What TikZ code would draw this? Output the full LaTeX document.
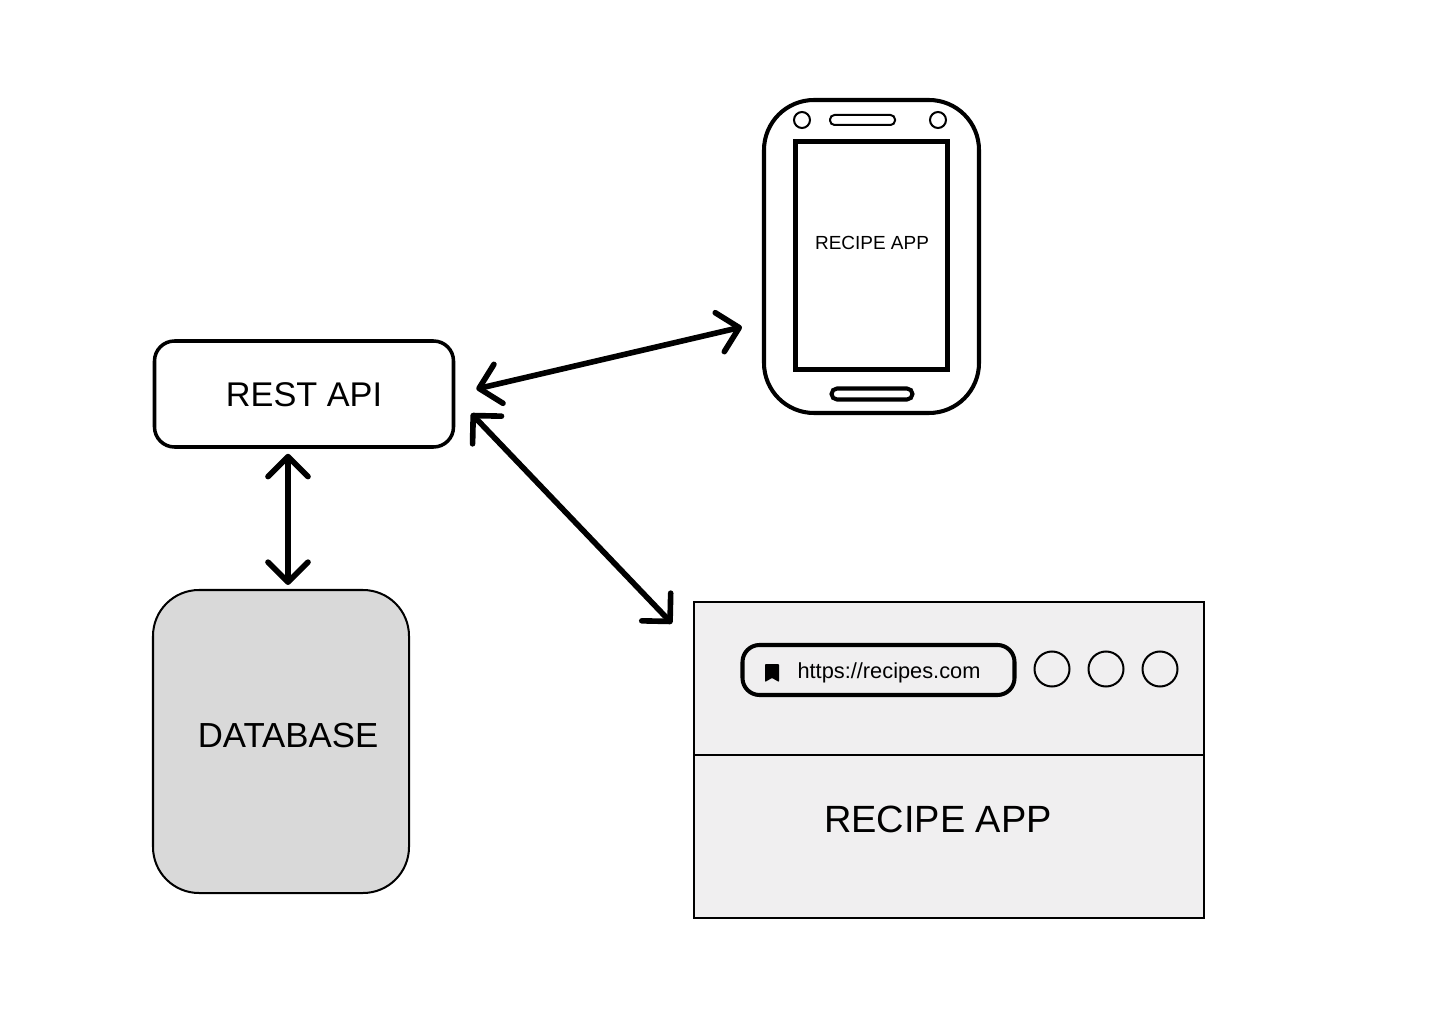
\documentclass[tikz,border=0pt]{standalone}
\usepackage{fontspec}
\setmainfont{Liberation Sans}
\usetikzlibrary{arrows.meta}
\tikzset{
    thickbox/.style={draw,line width=2.3pt,inner sep=0pt},
    thinbox/.style={draw,line width=1.14pt,inner sep=0pt},
    plain/.style={inner sep=0pt},
    link/.style={line width=3.2pt,line cap=round,
        {Straight Barb[round,length=0.4cm,width=0.8cm]}-{Straight Barb[round,length=0.4cm,width=0.8cm]}},
}
\definecolor{dbgrey}{HTML}{D9D9D9}
\definecolor{pagegrey}{HTML}{F0EFF0}
\begin{document}
\begin{tikzpicture}
    \useasboundingbox (0,0) rectangle (28.8,20.48);
    % server side
    \node [thickbox,line width=2pt,rounded corners=0.4cm,minimum width=5.98cm,minimum height=2.12cm] (api) at (6.08,12.6) {};
    \node [plain] (apitext) at (6.08,12.58) {\fontsize{19.5}{23}\selectfont REST API};
    \node [thinbox,fill=dbgrey,rounded corners=0.92cm,minimum width=5.12cm,minimum height=6.06cm] (db) at (5.62,5.65) {};
    \node [plain] (dbtext) at (5.76,5.76) {\fontsize{19.8}{23}\selectfont DATABASE};
    % phone
    \node [thickbox,rounded corners=1cm,minimum width=4.3cm,minimum height=6.26cm] (phone) at (17.43,15.35) {};
    \node [thickbox,minimum width=3.04cm,minimum height=4.56cm] (screen) at (17.43,15.37) {};
    \node [plain] (screentext) at (17.44,15.62) {\fontsize{10.8}{13}\selectfont RECIPE APP};
    \node [thinbox,circle,minimum size=0.32cm] (camleft) at (16.04,18.08) {};
    \node [thinbox,circle,minimum size=0.32cm] (camright) at (18.76,18.08) {};
    \node [thinbox,rounded corners=0.09cm,minimum width=1.3cm,minimum height=0.2cm] (speaker) at (17.25,18.08) {};
    \node [thickbox,rounded corners=0.11cm,minimum width=1.62cm,minimum height=0.22cm] (homekey) at (17.44,12.6) {};
    % browser
    \node [thinbox,fill=pagegrey,minimum width=10.2cm,minimum height=6.32cm] (browser) at (18.98,5.28) {};
    \draw [line width=1.14pt] (browser.west |- 0,5.38) -- (browser.east |- 0,5.38);
    \node [thickbox,rounded corners=0.34cm,minimum width=5.44cm,minimum height=1cm] (urlbar) at (17.57,7.08) {};
    \fill [rounded corners=0.5pt] (15.3,7.2) -- (15.58,7.2) -- (15.58,6.84) -- (15.44,6.92) -- (15.3,6.84) -- cycle;
    \node [plain] (urltext) at (17.78,7.02) {\fontsize{12.4}{15}\selectfont https://recipes.com};
    \foreach \x/\name in {21.04/dotone,22.12/dottwo,23.2/dotthree}
        \node [thinbox,circle,minimum size=0.7cm] (\name) at (\x,7.1) {};
    \node [plain] (pagetext) at (18.76,4.1) {\fontsize{21.6}{26}\selectfont RECIPE APP};
    % arrows
    \draw [link] ([shift={(-0.32,-0.1)}]api.south) -- ([shift={(0.14,0.08)}]db.north);
    \draw [link] ([shift={(0.42,0.1)}]api.east) -- ([shift={(-0.4,-1.41)}]phone.west);
    \draw [link] ([shift={(0.32,-0.39)}]api.east) -- ([shift={(-0.42,-0.45)}]browser.north west);
\end{tikzpicture}
\end{document}
